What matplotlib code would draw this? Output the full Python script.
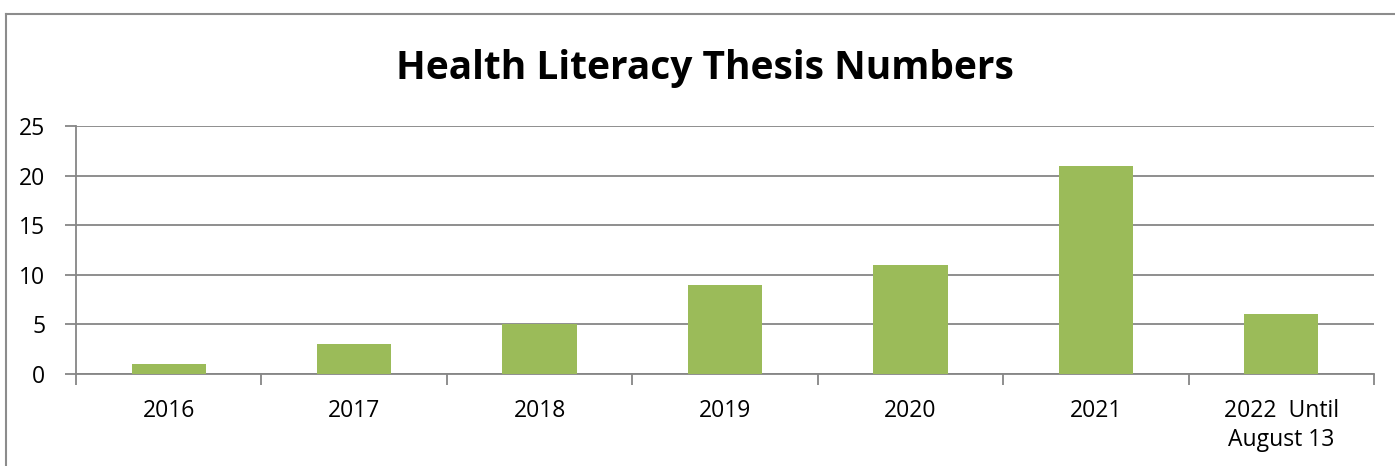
import matplotlib
matplotlib.use("Agg")
import matplotlib.pyplot as plt
from matplotlib.lines import Line2D

categories = ["2016", "2017", "2018", "2019", "2020", "2021", "2022  Until\nAugust 13"]
values = [1, 3, 5, 9, 11, 21, 6]
yticks = [0, 5, 10, 15, 20, 25]

W, H = 1395, 466
plt.rcParams["font.family"] = ["Open Sans", "DejaVu Sans"]

fig = plt.figure(figsize=(W / 100, H / 100), dpi=100)
ax = fig.add_axes([76 / W, 1 - 374 / H, (1374 - 76) / W, (374 - 126) / H])

grid_c = "#868686"
x = list(range(len(categories)))
ax.bar(x, values, width=0.4, color="#9BBB59", zorder=3)

ax.set_xlim(-0.5, len(categories) - 0.5)
ax.set_ylim(0, 25)
ax.set_yticks(yticks)
ax.yaxis.grid(True, color=grid_c, linewidth=1.3, zorder=0)
for s in ("top", "right"):
    ax.spines[s].set_visible(False)
for s in ("left", "bottom"):
    ax.spines[s].set_color(grid_c)
    ax.spines[s].set_linewidth(1.3)

ax.set_xticks(x)
ax.set_xticklabels(categories, fontsize=16.5, color="black", linespacing=1.3)
ax.set_xticks([i - 0.5 for i in range(len(categories) + 1)], minor=True)
ax.tick_params(axis="x", which="major", length=0, pad=18)
ax.tick_params(axis="x", which="minor", length=8, width=1.3, color=grid_c, direction="out")
ax.tick_params(axis="y", length=8, width=1.3, color=grid_c, labelsize=16.5, pad=14)

fig.text(705 / W, 1 - 79 / H, "Health Literacy Thesis Numbers", ha="center", va="baseline",
         fontsize=28, fontweight="bold")

# chart frame (Excel-style border)
fig.add_artist(Line2D([5.5 / W, 5.5 / W], [0, 1 - 13.5 / H], transform=fig.transFigure,
                      color="#8c8c8c", linewidth=1.5))
fig.add_artist(Line2D([5.5 / W, 1], [1 - 13.5 / H, 1 - 13.5 / H], transform=fig.transFigure,
                      color="#8c8c8c", linewidth=1.5))

fig.savefig("out.png", dpi=100)
